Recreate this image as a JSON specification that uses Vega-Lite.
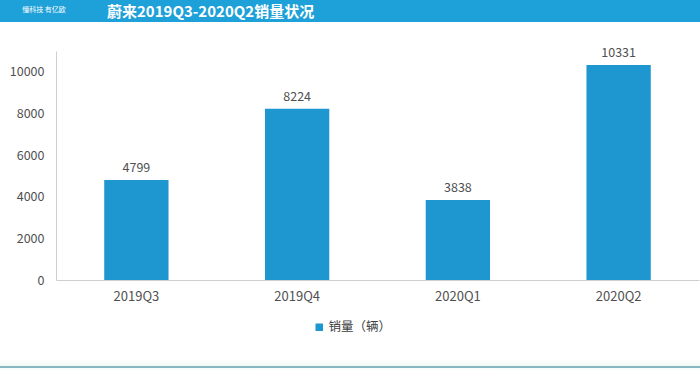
{
  "$schema": "https://vega.github.io/schema/vega-lite/v6.json",
  "padding": 0,
  "background": "white",
  "spacing": 24,
  "bounds": "full",
  "resolve": {"legend": {"color": "independent"}},
  "config": {"font": "Noto Sans CJK SC", "view": {"stroke": null}},
  "vconcat": [
    {
      "width": 700,
      "height": 22,
      "view": {"fill": "#1ea0d8", "stroke": null},
      "title": {
        "text": "蔚来2019Q3-2020Q2销量状况",
        "anchor": "start",
        "orient": "top",
        "offset": -20,
        "dx": 107,
        "fontSize": 15,
        "fontWeight": "bold",
        "color": "white",
        "font": "Noto Sans CJK SC"
      },
      "data": {"values": [{"logo": "懂科技 有亿欧"}]},
      "mark": {"type": "text", "color": "white", "fontSize": 7, "align": "center", "dx": -306, "dy": -1},
      "encoding": {"text": {"field": "logo", "type": "nominal"}}
    },
    {
      "width": 700,
      "height": 229,
      "data": {
        "values": [
          {"quarter": "2019Q3", "sales": 4799},
          {"quarter": "2019Q4", "sales": 8224},
          {"quarter": "2020Q1", "sales": 3838},
          {"quarter": "2020Q2", "sales": 10331}
        ]
      },
      "encoding": {
        "x": {
          "field": "quarter",
          "type": "nominal",
          "sort": null,
          "scale": {"range": [56, 699], "paddingInner": 0.6, "paddingOuter": 0.3},
          "axis": {
            "title": null,
            "labelAngle": 0,
            "ticks": false,
            "domainColor": "#cfcfcf",
            "domainWidth": 1,
            "labelPadding": 10,
            "labelFontSize": 13,
            "labelColor": "#505050",
            "labelFont": "Noto Sans CJK SC"
          }
        },
        "y": {
          "field": "sales",
          "type": "quantitative",
          "scale": {"domain": [0, 11000], "nice": false},
          "axis": {
            "title": null,
            "offset": -56,
            "values": [0, 2000, 4000, 6000, 8000, 10000],
            "format": "d",
            "grid": false,
            "ticks": false,
            "domainColor": "#cfcfcf",
            "labelPadding": 12,
            "labelFontSize": 12.5,
            "labelColor": "#505050",
            "labelFont": "Noto Sans CJK SC"
          }
        }
      },
      "layer": [
        {
          "mark": {"type": "bar"},
          "encoding": {
            "color": {
              "datum": "销量（辆）",
              "type": "nominal",
              "scale": {"range": ["#1e96cf"]},
              "legend": {
                "title": null,
                "orient": "none",
                "legendX": 313,
                "legendY": 270,
                "symbolType": "square",
                "symbolSize": 56,
                "symbolStrokeWidth": 0,
                "labelOffset": 3,
                "labelFontSize": 12.5,
                "labelColor": "#404040",
                "labelFont": "Noto Sans CJK SC"
              }
            }
          }
        },
        {
          "mark": {"type": "text", "baseline": "bottom", "dy": -5, "fontSize": 12.5, "color": "#505050"},
          "encoding": {"text": {"field": "sales", "type": "quantitative", "format": "d"}}
        }
      ]
    },
    {
      "width": 700,
      "height": 11,
      "view": {
        "stroke": null,
        "fill": {
          "gradient": "linear",
          "x1": 0, "y1": 0, "x2": 0, "y2": 1,
          "stops": [
            {"offset": 0, "color": "#ffffff"},
            {"offset": 0.6, "color": "#f1faf5"},
            {"offset": 0.61, "color": "#88b6c2"},
            {"offset": 0.8, "color": "#88b6c2"},
            {"offset": 0.81, "color": "#f4fbf8"},
            {"offset": 1, "color": "#ffffff"}
          ]
        }
      },
      "data": {"values": [{"note": ""}]},
      "mark": {"type": "text"},
      "encoding": {"text": {"field": "note", "type": "nominal"}}
    }
  ]
}
